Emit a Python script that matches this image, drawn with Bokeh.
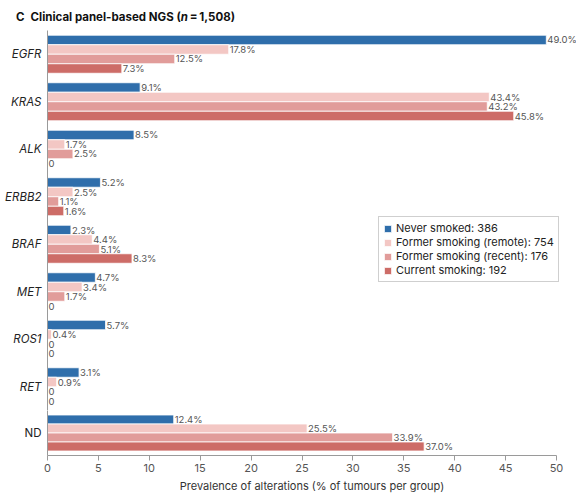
from bokeh.plotting import figure
from bokeh.layouts import column
from bokeh.models import (ColumnDataSource, FactorRange, Range1d, LabelSet, Div,
                          SingleIntervalTicker)
from bokeh.core.properties import value
from bokeh.transform import dodge
from bokeh.embed import file_html
from bokeh.resources import INLINE

# Prevalence of alterations (% of tumours per group), clinical panel-based NGS
categories = ["EGFR", "KRAS", "ALK", "ERBB2", "BRAF", "MET", "ROS1", "RET", "ND"]
never_smoked = [49.0, 9.1, 8.5, 5.2, 2.3, 4.7, 5.7, 3.1, 12.4]
former_remote = [17.8, 43.4, 1.7, 2.5, 4.4, 3.4, 0.4, 0.9, 25.5]
former_recent = [12.5, 43.2, 2.5, 1.1, 5.1, 1.7, 0.0, 0.0, 33.9]
current_smoking = [7.3, 45.8, 0.0, 1.6, 8.3, 0.0, 0.0, 0.0, 37.0]

series_names = ["Never smoked: 386", "Former smoking (remote): 754",
                "Former smoking (recent): 176", "Current smoking: 192"]
series_values = [never_smoked, former_remote, former_recent, current_smoking]
series_colors = ["#2f6eab", "#f3c7c4", "#e19c9a", "#cd6c67"]
series_offsets = [0.3, 0.1, -0.1, -0.3]

FONT = "Inter"
AXIS_GREY = "#9a9a9a"
PX_PER_UNIT = 509 / 50          # frame spans 0..50 over 509 px
X_END = 50 + 20 / PX_PER_UNIT    # room on the right for the 49.0% label


def make_panel(cats, height, border_bottom, label_style, with_xaxis):
    fig = figure(width=576, height=height, output_backend="svg", toolbar_location=None,
                 y_range=FactorRange(factors=cats[::-1], range_padding=0),
                 x_range=Range1d(0, X_END),
                 x_axis_location="below" if with_xaxis else None,
                 min_border_left=47, min_border_right=0, min_border_top=0,
                 min_border_bottom=border_bottom)
    fig.outline_line_color = None
    fig.xgrid.grid_line_color = None
    fig.ygrid.grid_line_color = None

    idx = [categories.index(c) for c in cats]
    for name, vals, color, off in zip(series_names, series_values, series_colors,
                                      series_offsets):
        sub = [vals[i] for i in idx]
        src = ColumnDataSource(dict(
            cat=cats, val=sub,
            txt=[f"{v:.1f}%" if v > 0 else "0" for v in sub]))
        ydodge = dodge("cat", off, range=fig.y_range)
        fig.hbar(y=ydodge, right="val", left=0, height=0.2, source=src,
                 fill_color=color, line_color="white", line_width=0.8,
                 legend_label=name)
        fig.add_layout(LabelSet(x="val", y=ydodge, text="txt", source=src,
                                x_offset=1, y_offset=0, text_baseline="middle",
                                text_font=value(FONT), text_font_size="9.5px",
                                text_color="#555555"))

    yax = fig.yaxis[0]
    yax.major_label_text_font = FONT
    yax.major_label_text_font_size = "11.5px"
    yax.major_label_text_font_style = label_style
    yax.major_label_text_color = "#222222"
    yax.major_label_standoff = 6
    yax.major_tick_line_color = None
    yax.minor_tick_line_color = None
    yax.major_tick_out = 0
    yax.major_tick_in = 0
    yax.axis_line_color = AXIS_GREY

    if with_xaxis:
        xax = fig.xaxis[0]
        xax.bounds = (0, 50)
        xax.ticker = SingleIntervalTicker(interval=5, num_minor_ticks=0)
        xax.axis_label = "Prevalence of alterations (% of tumours per group)"
        xax.axis_label_text_font = FONT
        xax.axis_label_text_font_style = "normal"
        xax.axis_label_text_font_size = "11px"
        xax.axis_label_text_color = "#333333"
        xax.axis_label_standoff = 4
        xax.major_label_text_font = FONT
        xax.major_label_text_font_size = "11px"
        xax.major_label_text_color = "#555555"
        xax.major_label_standoff = 3
        xax.major_tick_in = 0
        xax.major_tick_out = 5
        xax.minor_tick_line_color = None
        xax.axis_line_color = AXIS_GREY
        xax.major_tick_line_color = AXIS_GREY
    return fig


genes = categories[:-1]
top = make_panel(genes, 380, 0, "italic", False)
bottom = make_panel(categories[-1:], 85, 38, "normal", True)
bottom.legend.visible = False

# legend for the four smoking groups
lg = top.legend[0]
lg.location = (331, 128)
lg.border_line_color = "#a0a0a0"
lg.border_line_width = 1
lg.background_fill_color = "white"
lg.background_fill_alpha = 1
lg.padding = 4
lg.margin = 0
lg.spacing = 0
lg.label_height = 14
lg.glyph_height = 9
lg.glyph_width = 9
lg.label_standoff = 4
lg.label_text_font = FONT
lg.label_text_font_size = "11px"
lg.label_text_color = "#222222"
lg.label_text_baseline = "middle"

title = Div(
    text=('<div style="font-family:Inter;font-size:11.5px;font-weight:bold;'
          'color:#111;padding:10px 0 0 16px;line-height:14px;white-space:nowrap">'
          '<span style="margin-right:6px">C</span>'
          'Clinical panel-based NGS (<i>n</i>\u2009=\u20091,508)</div>'),
    width=576, height=30, margin=0)

layout = column(title, top, bottom, spacing=0)
open("out.html", "w").write(file_html(layout, INLINE))
